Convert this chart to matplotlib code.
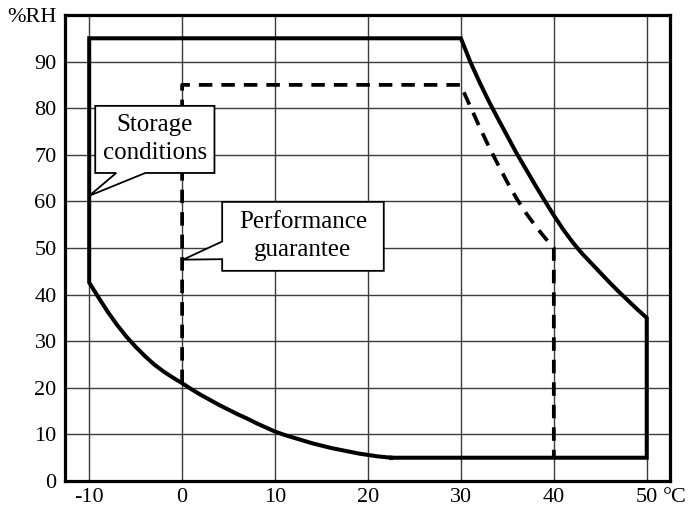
import matplotlib
matplotlib.use("Agg")
import matplotlib.pyplot as plt
from matplotlib.patches import Polygon

plt.rcParams['font.family'] = ['Liberation Serif', 'DejaVu Serif']

# storage conditions: lower (dry) boundary
lower_temp = [-10, -9.5, -9, -8, -7, -6, -5, -4, -3, -2, -1, 0, 1, 2, 3, 4, 5,
              6, 7, 8, 9, 10, 11, 12, 13, 14, 15, 16, 17, 18, 19, 20, 21, 22, 22.5]
lower_rh = [42.6, 41.0, 39.4, 36.3, 33.5, 31.0, 28.8, 26.8, 25.0, 23.5, 22.2, 21.0,
            19.7, 18.5, 17.4, 16.3, 15.3, 14.3, 13.4, 12.4, 11.5, 10.6, 9.9, 9.3,
            8.7, 8.1, 7.6, 7.1, 6.7, 6.3, 5.9, 5.6, 5.3, 5.1, 5.0]

# storage conditions: upper (hot/humid) boundary
upper_temp = [30, 30.5, 31, 32, 33, 34, 35, 36, 37, 38, 39, 40,
              41, 42, 43, 44, 45, 46, 47, 48, 49, 50]
upper_rh = [95, 92.5, 90, 85.6, 81.5, 77.7, 74.0, 70.3, 66.9, 63.5, 60.2, 57.0,
            54.0, 51.3, 48.9, 46.8, 44.7, 42.6, 40.6, 38.7, 36.8, 35.0]

# performance guarantee: hot/humid boundary
perf_temp = [30, 30.5, 31.1, 32, 33, 34, 35, 36, 37, 38, 39, 40]
perf_rh = [85, 82.6, 80, 76.0, 71.8, 67.9, 64.1, 60.6, 57.5, 54.8, 52.3, 50]

storage_max_rh = 95
storage_min_rh = 5
storage_tmin, storage_tmax = -10, 50
perf_max_rh = 85
perf_tmin, perf_tmax = 0, 40
perf_min_rh_at_tmin = 21

x_ticks = [-10, 0, 10, 20, 30, 40, 50]
x_labels = ['-10', '0', '10', '20', '30', '40', '50']
y_ticks = [0, 10, 20, 30, 40, 50, 60, 70, 80, 90, 100]
y_labels = ['0', '10', '20', '30', '40', '50', '60', '70', '80', '90', '%RH']

fig = plt.figure(figsize=(6.94, 5.08), dpi=100)
ax = fig.add_axes([0.0937, 0.0531, 0.8717, 0.9174])

# closed outline of the storage region
st_x = [lower_temp[-1], storage_tmax] + upper_temp[::-1] + [storage_tmin] + lower_temp
st_y = [storage_min_rh, storage_min_rh] + upper_rh[::-1] + [storage_max_rh] + lower_rh
ax.plot(st_x, st_y, color='black', lw=2.9, solid_joinstyle='miter', zorder=3)

# performance guarantee outline (open at the bottom, meets storage curve)
pf_x = [perf_tmin, perf_tmin] + perf_temp + [perf_tmax]
pf_y = [perf_min_rh_at_tmin, perf_max_rh] + perf_rh + [storage_min_rh]
ax.plot(pf_x, pf_y, color='black', lw=2.7, dashes=(3.6, 2.4), zorder=3)

ax.set_xlim(-12.6, 52.5)
ax.set_ylim(0, 100)
ax.set_xticks(x_ticks)
ax.set_xticklabels(x_labels)
ax.set_yticks(y_ticks)
ax.set_yticklabels(y_labels)
ax.tick_params(axis='both', length=0, labelsize=16)
ax.tick_params(axis='x', pad=5)
ax.tick_params(axis='y', pad=6)
ax.grid(True, color='#3c3c3c', lw=1.0, zorder=1)
for sp in ax.spines.values():
    sp.set_linewidth(2.3)
    sp.set_zorder(4)

# unit for the x axis next to the last tick
ax.annotate('°C', xy=(51.75, 0), xycoords=('data', 'axes fraction'),
            xytext=(0, -5), textcoords='offset points',
            ha='left', va='top', fontsize=16, annotation_clip=False)

# callout boxes
storage_box = [(-9.35, 80.5), (3.48, 80.5), (3.48, 66.1), (-3.96, 66.1),
               (-10, 61.2), (-7.09, 66.1), (-9.35, 66.1)]
ax.add_patch(Polygon(storage_box, closed=True, facecolor='white',
                     edgecolor='black', lw=1.3, zorder=5))
ax.text(-2.93, 73.3, 'Storage\nconditions', ha='center', va='center',
        fontsize=18, linespacing=1.35, zorder=6)

perf_box = [(4.31, 59.9), (21.7, 59.9), (21.7, 45.1), (4.31, 45.1),
            (4.31, 47.6), (0.1, 47.5), (4.31, 51.4)]
ax.add_patch(Polygon(perf_box, closed=True, facecolor='white',
                     edgecolor='black', lw=1.3, zorder=5))
ax.text(13.0, 52.6, 'Performance\nguarantee', ha='center', va='center',
        fontsize=18, linespacing=1.35, zorder=6)

fig.savefig('out.png', dpi=100)
